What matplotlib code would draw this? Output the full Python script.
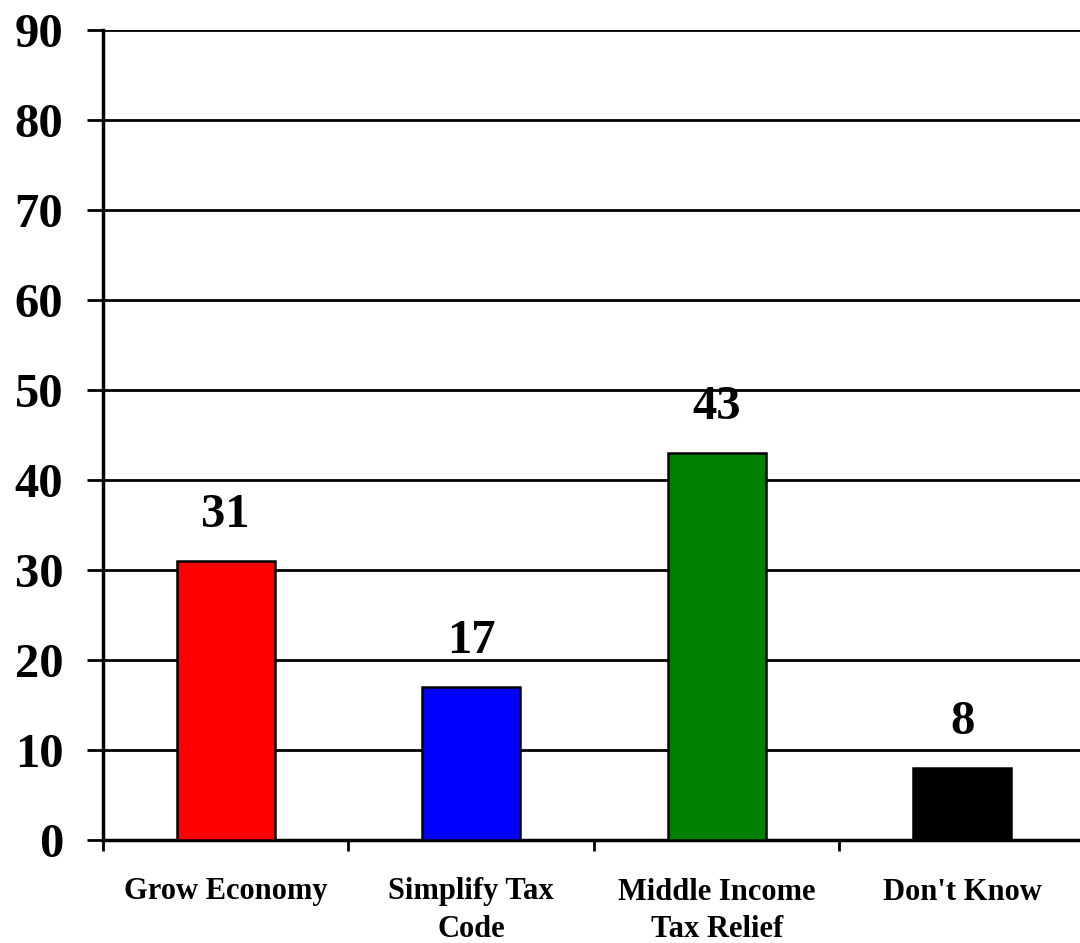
import matplotlib.pyplot as plt
from matplotlib.ticker import FixedLocator

categories = ['Grow Economy', 'Simplify Tax\nCode', 'Middle Income\nTax Relief', "Don't Know"]
values = [31, 17, 43, 8]
colors = ['#ff0000', '#0000ff', '#008000', '#000000']
yticks = list(range(0, 100, 10))

plt.rcParams['font.family'] = ['Liberation Serif', 'DejaVu Serif']
plt.rcParams['font.weight'] = 'bold'

fig = plt.figure(figsize=(10.8, 9.43), dpi=100)
ax = fig.add_axes([103 / 1080, 1 - 840 / 943, 1 - 103 / 1080, (840 - 30) / 943])

x = range(len(categories))
bars = ax.bar(x, values, width=0.4, color=colors, edgecolor='black', linewidth=1.8, zorder=3)

for xi, v in zip(x, values):
    ax.annotate(str(v), (xi, v), xytext=(0, 17), textcoords='offset points',
                ha='center', va='bottom', fontsize=35, fontweight='bold')

ax.set_xlim(-0.5, 3.48)
ax.set_ylim(0, 90)
ax.set_yticks(yticks)
ax.set_yticklabels([str(t) for t in yticks], fontsize=35, fontweight='bold')
ax.yaxis.grid(True, color='black', linewidth=2)
ax.set_axisbelow(True)

ax.set_xticks(list(x))
ax.set_xticklabels(categories, fontsize=22, fontweight='bold', linespacing=1.4, va='top')
ax.xaxis.set_minor_locator(FixedLocator([-0.5, 0.5, 1.5, 2.5]))
ax.tick_params(axis='x', which='major', length=0, pad=27)
ax.tick_params(axis='x', which='minor', length=8, width=2, direction='out')
ax.tick_params(axis='y', length=11.5, width=2, pad=17)

for s in ['top', 'right']:
    ax.spines[s].set_visible(False)
ax.spines['left'].set_linewidth(2.5)
ax.spines['bottom'].set_linewidth(2.5)

fig.savefig('out.png', dpi=100)
